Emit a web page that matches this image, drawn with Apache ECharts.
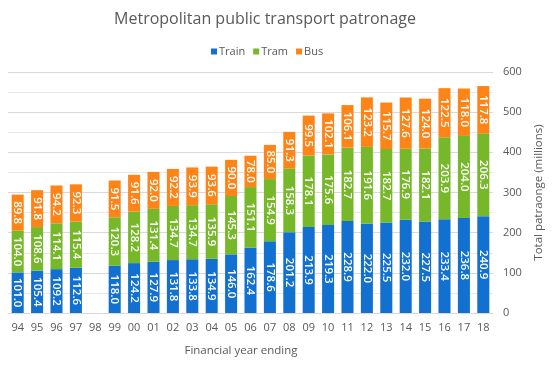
<!DOCTYPE html>
<html><head><meta charset="utf-8">
<script src="https://cdn.jsdelivr.net/npm/echarts@6/dist/echarts.min.js"></script>
<style>html,body{margin:0;padding:0;background:#fff}#c{width:556px;height:369px}</style>
</head><body><div id="c"></div>
<script>
const years = ['94','95','96','97','98','99','00','01','02','03','04','05','06','07','08','09','10','11','12','13','14','15','16','17','18'];
const train = [101.0,105.4,109.2,112.6,null,118.0,124.2,127.9,131.8,133.8,134.9,146.0,162.4,178.6,201.2,213.9,219.3,228.9,222.0,225.5,232.0,227.5,233.4,236.8,240.9];
const tram  = [104.0,108.6,114.1,115.4,null,120.3,128.2,131.4,134.7,134.7,135.9,145.3,151.1,154.9,158.3,178.1,175.6,182.7,191.6,182.7,176.9,182.1,203.9,204.0,206.3];
const bus   = [89.8,91.8,94.2,92.3,null,91.5,91.6,92.0,92.2,93.9,93.6,90.0,78.0,85.0,91.3,99.5,102.1,106.1,123.2,115.7,127.6,124.0,122.5,118.0,117.8];
const yTicks = [0,100,200,300,400,500,600];

const FONT = '"Open Sans", "Noto Sans", sans-serif';
const chart = echarts.init(document.getElementById('c'), null, {renderer:'canvas'});
function mk(name, data, color){
  return {
    name, type:'bar', stack:'total', data, barWidth:'62%',
    itemStyle:{color},
    label:{show:true, position:'inside', rotate:-90, color:'#fff', fontSize:11.5, fontWeight:600, fontFamily:FONT,
      formatter:p=>p.value==null?'':Number(p.value).toFixed(1)}
  };
}
chart.setOption({
  animation:false,
  title:[
    {text:'Metropolitan public transport patronage', left:260, top:6, textAlign:'center',
     textStyle:{fontSize:16, fontWeight:'normal', color:'#595959', fontFamily:FONT}},
    {text:'Financial year ending', left:236, top:340, textAlign:'center',
     textStyle:{fontSize:11.5, fontWeight:'normal', color:'#595959', fontFamily:FONT}}
  ],
  legend:{top:41, left:206, itemWidth:6, itemHeight:6, itemGap:8, icon:'rect',
    textStyle:{fontSize:11, color:'#595959', fontFamily:FONT, padding:[0,0,0,-3]}},
  grid:{left:8, right:63, top:72, bottom:56},
  xAxis:{type:'category', data:years,
    axisLine:{lineStyle:{color:'#d9d9d9'}}, axisTick:{show:false},
    axisLabel:{color:'#595959', fontSize:11, fontFamily:FONT, margin:9, interval:0}},
  yAxis:{type:'value', position:'right', min:yTicks[0], max:yTicks[yTicks.length-1], interval:100,
    name:'Total patraonge (millions)', nameLocation:'middle', nameGap:34, nameRotate:90,
    nameTextStyle:{color:'#595959', fontSize:11.5, fontFamily:FONT},
    axisLabel:{color:'#595959', fontSize:11, fontFamily:FONT, margin:10},
    axisLine:{show:false}, axisTick:{show:false},
    splitLine:{lineStyle:{color:'#d9d9d9'}},
    minorTick:{show:false, splitNumber:2},
    minorSplitLine:{show:true, lineStyle:{color:'#e8e8e8'}}},
  series:[mk('Train',train,'#1170d0'), mk('Tram',tram,'#77b82a'), mk('Bus',bus,'#ff8418')]
});
</script></body></html>
